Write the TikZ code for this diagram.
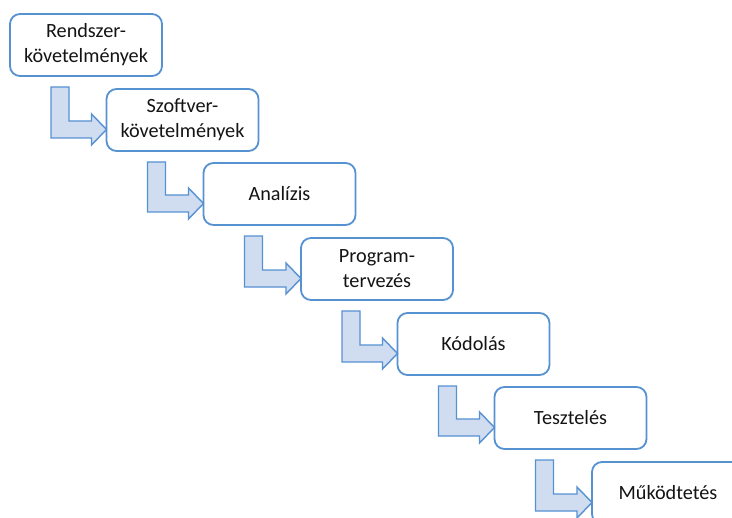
\documentclass[tikz,border=0pt]{standalone}
\usepackage{fontspec}
\setmainfont{Carlito}
\usetikzlibrary{calc}
\definecolor{boxline}{RGB}{86,145,210}
\definecolor{arrowfill}{RGB}{208,221,240}
\definecolor{txt}{RGB}{20,20,20}
\tikzset{
  stagebox/.style={draw=boxline, line width=1.8bp, fill=white, rounded corners=10bp,
    minimum width=152bp, minimum height=62bp, anchor=north west, align=center,
    outer sep=0pt, inner sep=2bp, text=txt,
    font=\fontsize{20.3}{25}\selectfont},
  bentarrow/.style={draw=boxline, line width=1.4bp, fill=arrowfill, line join=miter}
}
\newcommand{\bentarrowdraw}[2]{%
  \coordinate (#1p1) at ($(#1.south west)+(41,11)$);
  \coordinate (#1p2) at ($(#1.south west)+(59,11)$);
  \coordinate (#1p4) at ($(#2.north west)+(-15,32)$);
  \coordinate (#1p5) at ($(#2.north west)+(-15,25)$);
  \coordinate (#1p6) at ($(#2.north west)+(0,40.5)$);
  \coordinate (#1p7) at ($(#2.north west)+(-15,56)$);
  \coordinate (#1p8) at ($(#2.north west)+(-15,49)$);
  \path[bentarrow] (#1p1) -- (#1p2) -- (#1p2 |- #1p4) -- (#1p4) -- (#1p5) --
    (#1p6) -- (#1p7) -- (#1p8) -- (#1p1 |- #1p8) -- cycle;}
\begin{document}
\begin{tikzpicture}[x=1bp,y=-1bp]
\clip (0,0) rectangle (732,518);
\fill[white] (0,0) rectangle (732,518);
\node[stagebox] (b1) at (10,14) {Rendszer-\\követelmények};
\node[stagebox] (b2) at (106.5,89) {Szoftver-\\követelmények};
\node[stagebox] (b3) at (203.5,163) {Analízis};
\node[stagebox] (b4) at (301,238) {Program-\\tervezés};
\node[stagebox] (b5) at (397.5,313) {Kódolás};
\node[stagebox] (b6) at (494.5,387) {Tesztelés};
\node[stagebox] (b7) at (592,462) {Működtetés};
\bentarrowdraw{b1}{b2}
\bentarrowdraw{b2}{b3}
\bentarrowdraw{b3}{b4}
\bentarrowdraw{b4}{b5}
\bentarrowdraw{b5}{b6}
\bentarrowdraw{b6}{b7}
\end{tikzpicture}
\end{document}
